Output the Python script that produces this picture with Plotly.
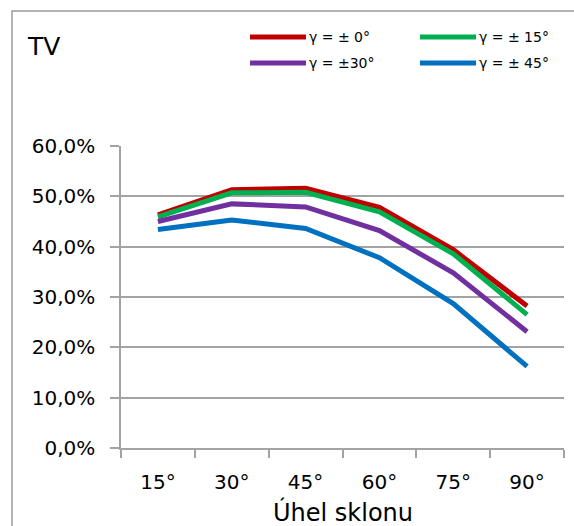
import plotly.graph_objects as go

# Tilt angle categories and irradiation share for each azimuth deviation
angles = ["15°", "30°", "45°", "60°", "75°", "90°"]
series_names = ["γ = ± 0°", "γ = ± 15°", "γ = ±30°", "γ = ± 45°"]
gamma_0 = [46.3, 51.3, 51.6, 47.8, 39.4, 28.2]
gamma_15 = [45.9, 50.7, 50.8, 46.9, 38.6, 26.5]
gamma_30 = [45.0, 48.5, 47.9, 43.2, 34.8, 23.1]
gamma_45 = [43.4, 45.3, 43.6, 37.8, 28.7, 16.2]
y_ticks = [0, 10, 20, 30, 40, 50, 60]
y_tick_labels = [f"{v:.1f}".replace(".", ",") + "%" for v in y_ticks]

colors = ["#C00000", "#00B050", "#7030A0", "#0070C0"]
values = [gamma_0, gamma_15, gamma_30, gamma_45]

FONT = "DejaVu Sans"
GRID = "#a3a3a3"

W, H = 574, 526
L, R, T, B = 121, 10, 146, 78
PW, PH = W - L - R, H - T - B


def xp(px):
    return (px - L) / PW


def yp(py):
    return (H - B - py) / PH


fig = go.Figure()
for name, vals, col in zip(series_names, values, colors):
    fig.add_trace(go.Scatter(
        x=angles, y=vals, mode="lines", name=name,
        line=dict(color=col, width=5), showlegend=False,
    ))

shapes = [
    # outer chart frame
    dict(type="rect", xref="paper", yref="paper",
         x0=xp(12), x1=xp(590), y0=yp(11), y1=yp(540),
         line=dict(color="#9a9a9a", width=1.5), fillcolor="rgba(0,0,0,0)",
         layer="below"),
]
annotations = [
    dict(text="TV", xref="paper", yref="paper", x=xp(25), y=yp(46),
         xanchor="left", yanchor="middle", showarrow=False,
         font=dict(family=FONT, size=25, color="black")),
    dict(text="Úhel sklonu", xref="paper", yref="paper", x=xp(343), y=yp(512),
         xanchor="center", yanchor="middle", showarrow=False,
         font=dict(family=FONT, size=24, color="black")),
]

# two-column legend: swatch line + label
legend_pos = [(250, 37), (420, 37), (250, 63), (420, 63)]
for name, col, (lx, ly) in zip(series_names, colors, legend_pos):
    shapes.append(dict(type="line", xref="paper", yref="paper",
                       x0=xp(lx), x1=xp(lx + 56), y0=yp(ly), y1=yp(ly),
                       line=dict(color=col, width=5)))
    annotations.append(dict(text=name, xref="paper", yref="paper",
                            x=xp(lx + 57), y=yp(ly), xanchor="left",
                            yanchor="middle", showarrow=False,
                            font=dict(family=FONT, size=14, color="black")))

fig.update_layout(
    width=W, height=H,
    margin=dict(l=L, r=R, t=T, b=B, pad=0),
    paper_bgcolor="white", plot_bgcolor="white",
    font=dict(family=FONT, color="black"),
    shapes=shapes, annotations=annotations,
    xaxis=dict(
        type="category", range=[-0.5, 5.5], tickson="boundaries",
        showgrid=False, showline=True, linecolor=GRID, linewidth=1.5,
        ticks="outside", ticklen=8, tickcolor=GRID, tickwidth=1.5,
        tickfont=dict(family=FONT, size=20, color="black"),
        ticklabelstandoff=15,
    ),
    yaxis=dict(
        range=[0, 60], tickmode="array", tickvals=y_ticks,
        ticktext=y_tick_labels,
        showgrid=True, gridcolor=GRID, gridwidth=1.5, zeroline=False,
        showline=True, linecolor=GRID, linewidth=1.5,
        ticks="outside", ticklen=9, tickcolor=GRID, tickwidth=1.5,
        tickfont=dict(family=FONT, size=20, color="black"),
        ticklabelstandoff=11,
    ),
)

fig.write_html("out.html")
